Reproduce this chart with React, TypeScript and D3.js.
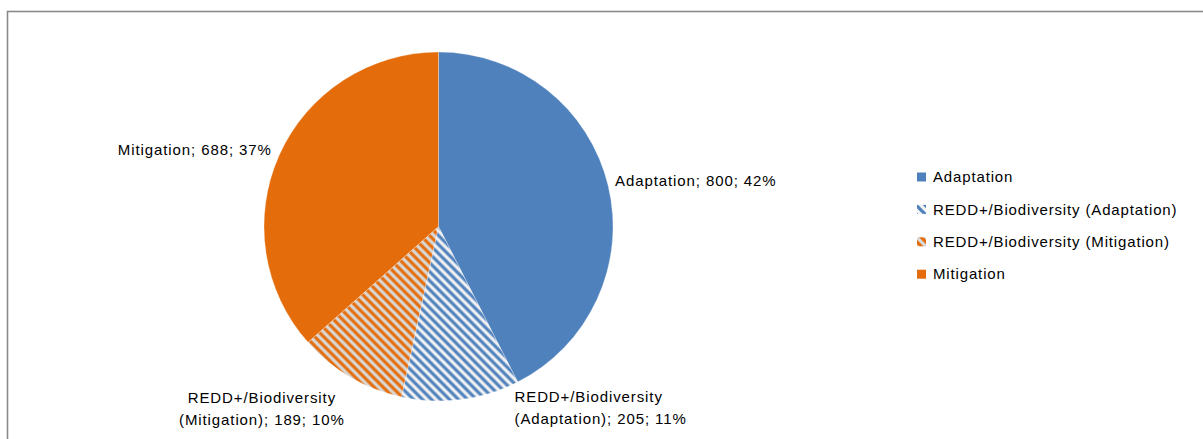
import React from "react";
import * as d3 from "d3";

const categories = ["Adaptation", "REDD+/Biodiversity (Adaptation)", "REDD+/Biodiversity (Mitigation)", "Mitigation"];
const values = [800, 205, 189, 688];
const pctLabels = ["42%", "11%", "10%", "37%"];
const labelLines = [
  ["Adaptation; 800; 42%"],
  ["REDD+/Biodiversity", "(Adaptation); 205; 11%"],
  ["REDD+/Biodiversity", "(Mitigation); 189; 10%"],
  ["Mitigation; 688; 37%"],
];

const W = 1203;
const H = 439;
const cx = 438.5;
const cy = 226.5;
const R = 174.5;

const BLUE = "#4F81BD";
const ORANGE = "#E46C0A";

// layout offsets for labels relative to computed anchor (outer point at mid angle)
const labelLayout = [
  { anchor: "start", dx: 2, dy: -4 },
  { anchor: "start", dx: 53, dy: -8 },
  { anchor: "middle", dx: -86, dy: 16 },
  { anchor: "end", dx: -3, dy: -3 },
];

const fills = [BLUE, "url(#hatchBlue)", "url(#hatchOrange)", ORANGE];

export default function App() {
  const pie = d3.pie<number>().sort(null).value((d) => d);
  const arcs = pie(values);
  const arcGen = d3.arc<d3.PieArcDatum<number>>().innerRadius(0).outerRadius(R);
  const labelR = R + 5;
  const font = "'Liberation Sans', Arial, sans-serif";
  const P = 9;
  const hatchPath = `M${-P / 4},${-P / 4} L${P * 1.25},${P * 1.25} M${-P / 4},${P * 0.75} L${P / 4},${P * 1.25} M${P * 0.75},${-P / 4} L${P * 1.25},${P / 4}`;

  return (
    <svg
      width={W}
      height={H}
      style={{ position: "absolute", left: 0, top: 0, background: "#fff" }}
      xmlns="http://www.w3.org/2000/svg"
    >
      <defs>
        <pattern id="hatchBlue" patternUnits="userSpaceOnUse" width={P} height={P}>
          <rect width={P} height={P} fill="#F2F2F2" />
          <path d={hatchPath} stroke={BLUE} strokeWidth={3.1} />
        </pattern>
        <pattern id="hatchOrange" patternUnits="userSpaceOnUse" width={P} height={P}>
          <rect width={P} height={P} fill="#D9D9D9" />
          <path d={hatchPath} stroke={ORANGE} strokeWidth={3.1} />
        </pattern>
      </defs>
      <rect x={0} y={0} width={W} height={H} fill="#fff" />
      <rect x={7.5} y={11.5} width={1400} height={600} fill="none" stroke="#8A8A8A" strokeWidth={1.6} />

      <g transform={`translate(${cx},${cy})`}>
        {arcs.map((a, i) => (
          <path key={i} d={arcGen(a) || ""} fill={fills[i]} stroke="#fff" strokeWidth={0.3} />
        ))}
      </g>

      {arcs.map((a, i) => {
        const mid = (a.startAngle + a.endAngle) / 2;
        const ax = cx + labelR * Math.sin(mid);
        const ay = cy - labelR * Math.cos(mid);
        const L = labelLayout[i];
        return (
          <text
            key={i}
            x={ax + L.dx}
            y={ay + L.dy}
            textAnchor={L.anchor as any}
            fontFamily={font}
            fontSize={15}
            letterSpacing={0.9}
            fill="#000"
          >
            {labelLines[i].map((ln, j) => (
              <tspan key={j} x={ax + L.dx} dy={j === 0 ? "0.35em" : 22}>
                {ln}
              </tspan>
            ))}
          </text>
        );
      })}

      <g>
        {categories.map((c, i) => {
          const y = 177 + i * 32.4;
          return (
            <g key={i}>
              <rect x={917} y={y - 4.5} width={9} height={9} fill={fills[i]} />
              <text x={933} y={y} dy="0.35em" fontFamily={font} fontSize={15} letterSpacing={0.85} fill="#000">
                {c}
              </text>
            </g>
          );
        })}
      </g>
    </svg>
  );
}
